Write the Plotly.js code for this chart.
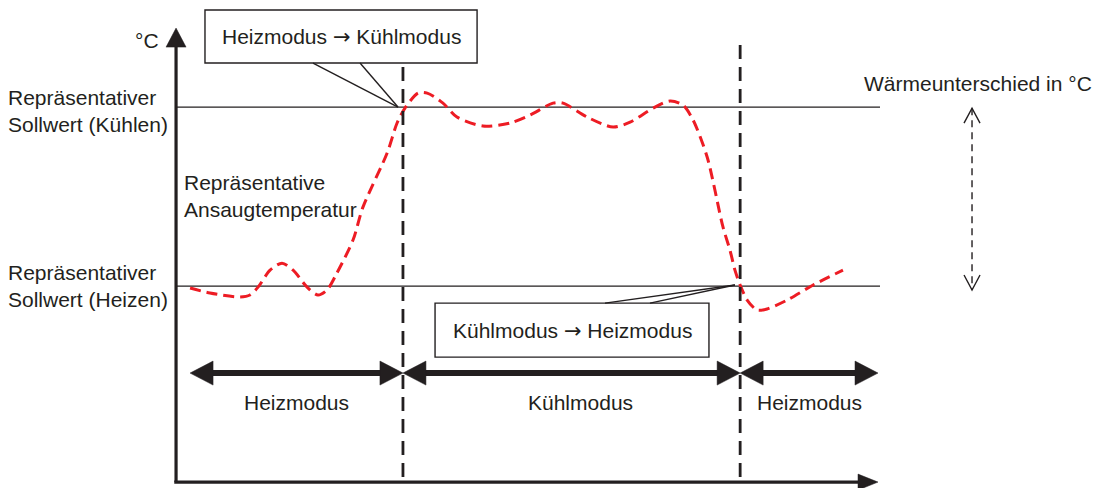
<!DOCTYPE html>
<html>
<head>
<meta charset="utf-8">
<script src="https://cdn.plot.ly/plotly-3.0.1.min.js"></script>
<style>
  html, body { margin: 0; padding: 0; background: #fff; }
  #graphics { width: 1097px; height: 488px; }
</style>
</head>
<body>
<div id="graphics"></div>
<script>
// representative intake temperature (time units, temp units: heat setpoint = 0, cool setpoint = 10)
var time = [0.62, 1.50, 2.83, 3.27, 3.63, 4.16, 4.69, 5.18, 5.80, 6.28, 6.68, 7.12, 7.83, 8.27,
            9.34, 9.78, 10.13, 10.71, 11.11, 11.81, 12.43, 13.58, 14.78, 15.66, 16.68, 17.12,
            18.19, 19.34, 20.09, 21.11, 21.86, 22.43, 22.88, 23.50, 24.20, 24.51, 24.73, 24.96,
            25.27, 25.71, 26.15, 27.04, 28.19, 29.51];
var temp = [-0.11, -0.39, -0.61, -0.50, -0.06, 0.89, 1.28, 0.89, -0.06, -0.50, -0.22, 0.73, 2.57, 4.41,
            7.43, 9.11, 9.94, 10.78, 10.78, 10.22, 9.44, 8.94, 9.11, 9.55, 10.22, 10.22,
            9.44, 8.88, 9.16, 9.94, 10.34, 10.11, 9.27, 7.21, 3.30, 2.01, 0.89, 0.06,
            -0.78, -1.34, -1.28, -0.78, 0.06, 0.89];

var heatSet = 0, coolSet = 10;
var switchTimes = [10.04, 24.96];
var timeEnd = 31.15;

var modeLabels = ['Heizmodus', 'Kühlmodus', 'Heizmodus'];
var modeStart = [0.62, 10.04, 24.96];
var modeEnd = [10.04, 24.96, 31.06];
var modeLabelX = [5.35, 17.88, 28.05];

var xRange = [-7.79, 40.75], yRange = [-11.28, 15.98];
var W = 1097, H = 488;
var kx = W / (xRange[1] - xRange[0]), ky = H / (yRange[1] - yRange[0]);

var ink = '#231f20';
var fontFam = 'Liberation Sans, Arial, sans-serif';
var arrowChar = '<span style="font-family:DejaVu Sans">\u2192</span>';
var shapes = [], annotations = [];

function line(x0, y0, x1, y1, w, dash, layer) {
  shapes.push({type: 'line', xref: 'x', yref: 'y', x0: x0, y0: y0, x1: x1, y1: y1, layer: layer || 'above',
    line: {color: ink, width: w, dash: dash || 'solid'}});
}
function head(x, y, dir, len, half) {
  var p;
  if (dir == 'right') p = 'M' + x + ',' + y + ' L' + (x - len / kx) + ',' + (y + half / ky) + ' L' + (x - len / kx) + ',' + (y - half / ky) + ' Z';
  if (dir == 'left') p = 'M' + x + ',' + y + ' L' + (x + len / kx) + ',' + (y + half / ky) + ' L' + (x + len / kx) + ',' + (y - half / ky) + ' Z';
  if (dir == 'up') p = 'M' + x + ',' + y + ' L' + (x - half / kx) + ',' + (y - len / ky) + ' L' + (x + half / kx) + ',' + (y - len / ky) + ' Z';
  shapes.push({type: 'path', xref: 'x', yref: 'y', path: p, fillcolor: ink, line: {color: ink, width: 0.5}});
}
function vee(x, y, up) {
  var s = up ? -1 : 1;
  shapes.push({type: 'path', xref: 'x', yref: 'y',
    path: 'M' + (x - 8 / kx) + ',' + (y + s * 15 / ky) + ' L' + x + ',' + y + ' L' + (x + 8 / kx) + ',' + (y + s * 15 / ky),
    line: {color: ink, width: 1.4}});
}
function text(t, x, y, xanchor, align) {
  annotations.push({text: t, x: x, y: y, xref: 'x', yref: 'y', showarrow: false,
    xanchor: xanchor || 'center', yanchor: 'middle', align: align || 'center',
    font: {family: fontFam, size: 21, color: ink}});
}

// setpoint lines
line(0, coolSet, timeEnd, coolSet, 1.3, 'solid', 'below');
line(0, heatSet, timeEnd, heatSet, 1.3, 'solid', 'below');

// mode switch lines
switchTimes.forEach(function(t) { line(t, 13.46, t, -10.95, 2.8, '14px,8px'); });

// axes
line(0, -10.95, 0, 13.35, 3.2);
head(0, 14.41, 'up', 19, 10);
line(-0.08, -10.95, 30.22, -10.95, 3.2);
head(31.06, -10.95, 'right', 20, 8);

// mode arrows
for (var i = 0; i < modeLabels.length; i++) {
  var y = -4.86;
  line(modeStart[i] + 20 / kx, y, modeEnd[i] - 20 / kx, y, 6);
  head(modeStart[i], y, 'left', 23, 12);
  head(modeEnd[i], y, 'right', 23, 12);
  text(modeLabels[i], modeLabelX[i], -6.48);
}

// callout boxes
shapes.push({type: 'rect', xref: 'x', yref: 'y', x0: 1.28, x1: 13.32, y0: 12.46, y1: 15.42,
  fillcolor: '#fff', line: {color: ink, width: 1.4}});
line(6.06, 12.46, 9.82, coolSet, 1.4);
line(8.14, 12.46, 9.82, coolSet, 1.4);
text('Heizmodus ' + arrowChar + ' Kühlmodus', 7.30, 13.91);

shapes.push({type: 'rect', xref: 'x', yref: 'y', x0: 11.46, x1: 23.58, y0: -0.95, y1: -3.97,
  fillcolor: '#fff', line: {color: ink, width: 1.4}});
line(18.98, -0.95, 24.73, heatSet + 0.06, 1.4);
line(20.97, -0.95, 24.73, heatSet + 0.06, 1.4);
text('Kühlmodus ' + arrowChar + ' Heizmodus', 17.52, -2.51);

// temperature difference arrow
line(35.22, 9.94, 35.22, -0.22, 1.4, '7px,5px');
vee(35.22, 9.94, true);
vee(35.22, -0.22, false);

// labels
text('°C', -1.28, 13.69);
text('Repräsentativer<br>Sollwert (Kühlen)', -0.27, 9.78, 'right', 'left');
text('Repräsentativer<br>Sollwert (Heizen)', -0.27, 0.0, 'right', 'left');
text('Repräsentative<br>Ansaugtemperatur', 0.27, 5.03, 'left', 'left');
text('Wärmeunterschied in °C', 30.35, 11.34, 'left', 'left');

var trace = {
  x: time,
  y: temp,
  type: 'scatter',
  mode: 'lines',
  line: {color: '#ed1c24', width: 3, dash: '11px,6px', shape: 'spline', smoothing: 0.8},
  hoverinfo: 'skip'
};

var layout = {
  width: W,
  height: H,
  margin: {l: 0, r: 0, t: 0, b: 0, pad: 0},
  paper_bgcolor: '#fff',
  plot_bgcolor: '#fff',
  showlegend: false,
  xaxis: {range: xRange, visible: false, fixedrange: true},
  yaxis: {range: yRange, visible: false, fixedrange: true},
  shapes: shapes,
  annotations: annotations
};

Plotly.newPlot('graphics', [trace], layout, {staticPlot: true});
</script>
</body>
</html>
